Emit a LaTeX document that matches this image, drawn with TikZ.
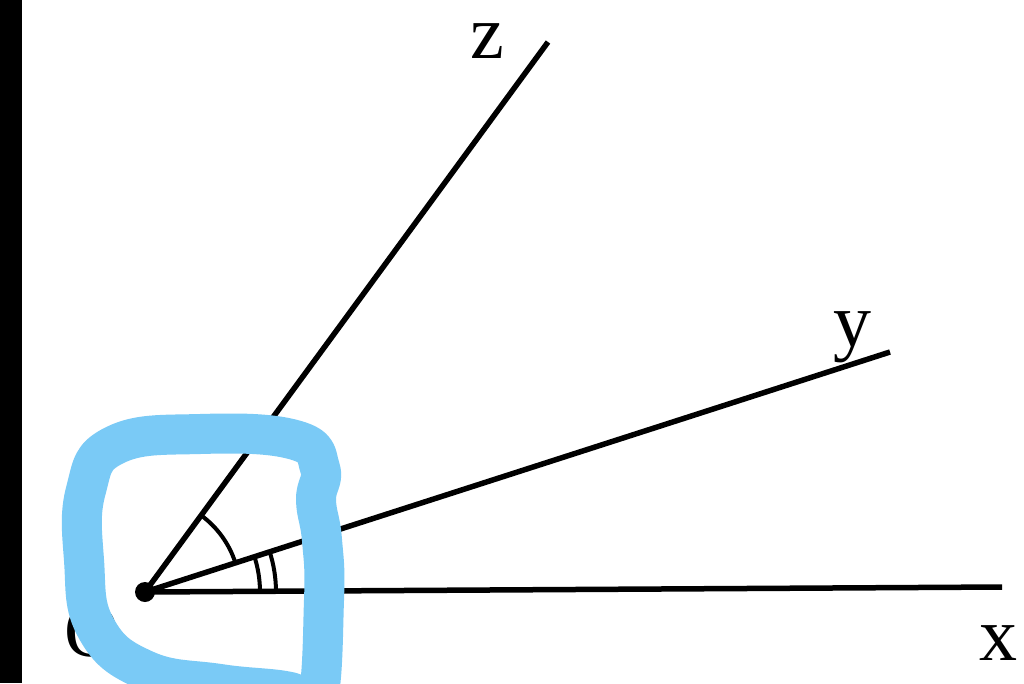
\documentclass[tikz,border=0pt]{standalone}
\usepackage{fontspec}
\setmainfont{Liberation Serif}
\definecolor{hl}{RGB}{122,202,246}
\begin{document}
\begin{tikzpicture}[x=1pt,y=-1pt,
  ray/.style={line width=5.5pt},
  markarc/.style={line width=4pt},
  lbl/.style={font=\fontsize{76}{76}\selectfont, inner sep=0pt},
  loop/.style={draw=hl, line width=40pt, line join=round}]
\useasboundingbox (0,0) rectangle (1024,683);
\fill[white] (0,0) rectangle (1024,683);
\fill[black] (0,0) rectangle (22,683);
\coordinate (O) at (145,592);
\coordinate (X) at (1002,587);
\coordinate (Y) at (890,352);
\coordinate (Z) at (548,42);
\draw[ray] (O) -- (X);
\draw[ray] (O) -- (Y);
\draw[ray] (O) -- (Z);
\draw[markarc] ([shift={(-53.8:95)}]O) arc[start angle=-53.8, end angle=-17.85, radius=95];
\draw[markarc] ([shift={(-17.85:115)}]O) arc[start angle=-17.85, end angle=-0.3, radius=115];
\draw[markarc] ([shift={(-17.85:131)}]O) arc[start angle=-17.85, end angle=-0.3, radius=131];
\fill (O) circle[radius=10];
\node[lbl] (lz) at (487,41) {z};
\node[lbl] (ly) at (852,337) {y};
\node[lbl] (lx) at (998,643) {x};
\node[lbl] (lo) at (92,632) {O};
\begin{scope}
\clip (0,0) rectangle (1024,683);
\draw[loop] plot[smooth cycle, tension=0.75] coordinates {
  (316,705) (324,600) (322,540) (316,500) (320,468) (295,440) (200,434)
  (115,445) (86,490) (84,560) (96,628) (145,670) (220,684) (290,692)};
\end{scope}
\end{tikzpicture}
\end{document}
